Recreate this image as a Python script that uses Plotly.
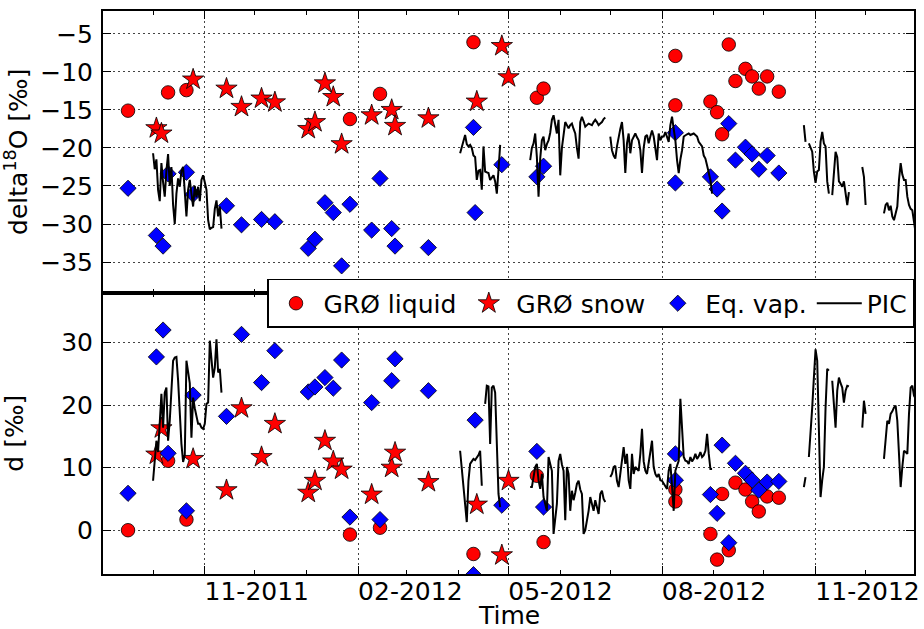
import pandas as pd
import plotly.graph_objects as go
from plotly.subplots import make_subplots

# ---- GRØ liquid precipitation samples ----
liquid_dates = ["2011-09-16", "2011-10-10", "2011-10-21", "2012-01-27", "2012-02-14",
                "2012-04-10", "2012-05-18", "2012-05-22", "2012-08-09", "2012-08-09",
                "2012-08-30", "2012-09-03", "2012-09-06", "2012-09-10", "2012-09-14",
                "2012-09-20", "2012-09-24", "2012-09-28", "2012-10-03", "2012-10-10"]
liquid_d18o = [-15.1, -12.7, -12.4, -16.2, -12.9, -6.1, -13.4, -12.2, -7.9, -14.4,
               -13.9, -15.3, -18.2, -6.4, -11.2, -9.6, -10.6, -12.2, -10.6, -12.6]
liquid_dxs = [0.0, 11.1, 1.7, -0.7, 0.4, -3.8, 8.7, -1.9, 6.5, 4.6,
              -0.6, -4.7, 5.8, -3.2, 7.6, 6.5, 4.6, 3.0, 5.4, 5.2]

# ---- GRØ snow samples ----
snow_dates = ["2011-10-03", "2011-10-06", "2011-10-25", "2011-11-14", "2011-11-23",
              "2011-12-05", "2011-12-13", "2012-01-02", "2012-01-06", "2012-01-12",
              "2012-01-17", "2012-01-22", "2012-02-09", "2012-02-21", "2012-02-23",
              "2012-03-14", "2012-04-12", "2012-04-27", "2012-05-01"]
snow_d18o = [-17.4, -18.1, -11.0, -12.2, -14.6, -13.5, -14.0, -17.5, -16.6, -11.5,
             -13.3, -19.5, -15.7, -15.0, -17.1, -16.1, -13.9, -6.6, -10.7]
snow_dxs = [12.1, 16.3, 11.4, 6.4, 19.5, 11.7, 17.0, 6.0, 7.9, 14.3,
            11.0, 9.7, 5.7, 10.0, 12.4, 7.7, 4.1, -4.0, 7.9]

# ---- vapour in equilibrium with the samples ----
vap_dates = ["2011-09-16", "2011-10-03", "2011-10-07", "2011-10-10", "2011-10-21",
             "2011-10-25", "2011-11-14", "2011-11-23", "2011-12-05", "2011-12-13",
             "2012-01-02", "2012-01-06", "2012-01-12", "2012-01-17", "2012-01-22",
             "2012-01-27", "2012-02-09", "2012-02-14", "2012-02-21", "2012-02-23",
             "2012-03-14", "2012-04-10", "2012-04-11", "2012-04-27", "2012-05-18",
             "2012-05-22", "2012-08-09", "2012-08-09", "2012-08-30", "2012-09-03",
             "2012-09-06", "2012-09-10", "2012-09-14", "2012-09-20", "2012-09-24",
             "2012-09-28", "2012-10-03", "2012-10-10"]
vap_d18o = [-25.3, -31.5, -32.9, -23.4, -23.2, -26.1, -27.6, -30.1, -29.4, -29.7,
            -33.2, -32.0, -27.2, -28.5, -35.5, -27.4, -30.8, -24.0, -30.6, -32.9,
            -33.1, -17.3, -28.5, -22.2, -23.8, -22.4, -18.0, -24.6, -23.8, -25.4,
            -28.3, -16.8, -21.6, -19.9, -20.8, -22.8, -21.0, -23.3]
vap_dxs = [5.9, 27.7, 32.0, 12.3, 3.1, 21.6, 18.2, 31.3, 23.6, 28.7,
           22.1, 22.9, 24.4, 22.7, 27.2, 2.1, 20.4, 1.7, 23.9, 27.4,
           22.3, -7.1, 17.6, 4.0, 12.6, 3.7, 12.2, 8.0, 5.7, 2.7,
           13.6, -2.0, 10.7, 9.1, 8.0, 6.4, 7.7, 7.8]

# ---- PIC daily record, one list per continuous measuring period ----
pic_starts = ["2011-10-01", "2012-04-02", "2012-05-14", "2012-07-01", "2012-10-25",
              "2012-10-28", "2012-11-11", "2012-11-29", "2012-12-12"]
pic_d18o = [
    [-20.7, -22.8, -21.5, -25.5, -27.0, -22.0, -24.5, -26.4, -23.0, -20.8,
     -25.0, -22.5, -27.5, -30.0, -26.0, -24.0, -25.1, -23.0, -22.5, -26.0,
     -29.0, -25.5, -24.2, -26.0, -27.7, -25.0, -26.5, -25.1, -27.0, -24.2,
     -23.6, -24.5, -25.5, -29.5, -30.7, -30.5, -30.4, -28.0, -26.9, -29.0,
     -27.7, -30.6],
    [-20.7, -19.8, -18.8, -18.3, -19.5, -19.8, -19.6, -20.0, -21.0, -21.2,
     -24.2, -23.0, -22.9, -25.5, -19.8, -23.1, -23.2, -23.3, -24.2, -23.8,
     -23.6, -24.4, -26.0, -22.9, -19.6],
    [-21.6, -20.0, -19.4, -18.1, -21.2, -26.4, -21.4, -19.0, -18.5, -20.3,
     -19.5, -19.0, -18.0, -16.3, -15.7, -17.0, -18.1, -16.3, -23.6, -20.0,
     -18.5, -16.6, -17.0, -17.4, -17.0, -16.8, -17.5, -18.1, -20.0, -21.4,
     -16.6, -15.9, -16.5, -17.2, -17.0, -16.8, -16.9, -17.0, -16.6, -16.3,
     -16.6, -17.0, -16.8, -16.6, -16.2, -16.0],
    [-18.5, -20.3, -21.0, -21.4, -19.8, -18.5, -17.5, -16.6, -19.0, -23.3,
     -19.4, -18.1, -20.7, -19.0, -18.5, -18.1, -18.6, -19.0, -20.3, -23.3,
     -20.0, -18.5, -18.3, -19.4, -18.5, -17.7, -18.5, -20.0, -21.6, -18.1,
     -19.0, -18.5, -18.5, -17.9, -18.5, -19.2, -17.0, -15.9, -17.5, -19.0,
     -21.6, -23.3, -21.5, -20.3, -18.5, -18.3, -18.2, -18.1, -18.3, -18.2,
     -18.1, -18.3, -18.5, -19.2, -19.5, -19.8, -21.0, -21.4, -22.3, -23.3,
     -24.2, -26.0],
    [-17.0, -19.2],
    [-19.4, -20.0, -20.5, -23.1, -24.6, -23.1, -22.9, -19.2, -17.9, -19.4,
     -19.8, -24.4, -26.0],
    [-26.2, -23.8, -20.5, -21.2, -24.4, -24.7, -25.1, -24.4, -25.8, -27.5,
     -25.8],
    [-22.5, -23.8, -27.5],
    [-28.6, -27.5, -27.2, -28.2, -27.6, -29.0, -29.5, -28.5, -27.7, -24.2,
     -22.0, -23.5, -24.2, -24.2, -26.4, -27.5, -28.0, -28.2, -29.5, -31.2],
]
pic_dxs = [
    [7.9, 11.6, 14.3, 12.5, 18.0, 21.8, 16.4, 22.0, 22.8, 14.3,
     17.5, 22.0, 27.1, 27.6, 27.7, 24.0, 18.6, 13.8, 10.9, 12.0,
     27.1, 25.0, 23.5, 14.8, 21.2, 19.5, 18.0, 17.0, 17.0, 16.4,
     16.2, 17.0, 20.2, 20.4, 30.3, 27.0, 24.4, 26.0, 30.5, 25.2,
     25.8, 22.0],
    [12.7, 10.0, 7.9, 4.0, 1.3, 7.9, 10.6, 11.0, 11.4, 11.2,
     11.6, 12.0, 12.7, 7.1, None, 20.2, 23.1, 23.0, 13.8, 22.8,
     23.1, 22.0, 14.8, 5.8, 3.7],
    [6.9, 6.9, 8.5, 10.1, 10.6, 8.0, 6.6, 9.0, 5.3, 4.0,
     3.1, 11.7, 10.5, 9.5, -0.6, 2.0, 4.2, 11.1, 12.2, 10.5,
     9.5, 1.6, 10.1, 9.0, 3.1, 6.3, 4.8, 6.0, 7.4, 7.9,
     6.5, 5.8, -0.6, 0.0, 1.5, 3.1, 5.3, 4.0, 3.1, 4.8,
     3.5, 2.6, 5.8, 6.3, 5.0, 4.5],
    [8.5, 9.0, 10.1, 10.3, 7.9, 6.9, 9.0, 11.1, 13.3, 10.6,
     12.2, 8.0, 6.6, 12.2, 9.0, 10.1, 9.8, 9.5, 12.2, 16.2,
     11.0, 9.5, 9.0, 11.1, 12.5, 14.3, 10.1, 9.0, 8.5, 9.0,
     8.0, 7.9, 7.4, 7.0, 6.6, 9.5, 10.6, 7.0, 3.1, 9.5,
     10.5, 11.1, 21.0, 17.0, 11.7, 11.1, 11.0, 10.6, 11.7, 11.0,
     11.4, 12.2, 11.4, 11.8, 12.5, 11.7, 12.0, 12.7, 15.4, 12.2,
     9.8, 9.8],
    [6.9, 8.5],
    [11.7, 15.0, 19.6, 24.4, 28.9, 27.1, 14.8, 5.3, 8.0, 10.1,
     19.6, 25.8, 25.5],
    [23.9, 20.0, 16.4, 22.3, 24.4, 23.5, 22.8, 20.4, 22.3, 23.1,
     23.0],
    [16.4, 20.7, 18.6],
    [11.4, 15.0, 17.5, 17.0, 18.6, 19.0, 19.6, 19.9, 17.5, 12.2,
     6.9, 10.1, 12.7, 12.5, 12.2, 18.6, 22.8, 23.1, 21.5, 21.0],
]


def join_segments(starts, segments):
    """Concatenate daily segments, leaving a gap between periods."""
    xs, ys = [], []
    for start, vals in zip(starts, segments):
        days = pd.date_range(start, periods=len(vals), freq="D")
        xs.extend(days.strftime("%Y-%m-%d").tolist())
        ys.extend(vals)
        xs.append(None)
        ys.append(None)
    return xs, ys


pic_x, pic_y18 = join_segments(pic_starts, pic_d18o)
_, pic_yd = join_segments(pic_starts, pic_dxs)

FONT = "DejaVu Sans, Liberation Sans, sans-serif"
FS = 25
TXT = dict(family=FONT, size=FS, color="black")

fig = make_subplots(rows=2, cols=1, shared_xaxes=True, vertical_spacing=0)

edge = dict(color="black", width=0.8)
for row, yl, ys, yv, yp in [(1, liquid_d18o, snow_d18o, vap_d18o, pic_y18),
                            (2, liquid_dxs, snow_dxs, vap_dxs, pic_yd)]:
    show = row == 1
    fig.add_trace(go.Scatter(x=liquid_dates, y=yl, mode="markers", name="GRØ liquid",
                             showlegend=show,
                             marker=dict(symbol="circle", size=13.5, color="#ff0000", line=edge)),
                  row=row, col=1)
    fig.add_trace(go.Scatter(x=snow_dates, y=ys, mode="markers", name="GRØ snow",
                             showlegend=show,
                             marker=dict(symbol="star", size=16, color="#ff0000", line=edge)),
                  row=row, col=1)
    fig.add_trace(go.Scatter(x=vap_dates, y=yv, mode="markers", name="Eq. vap.",
                             showlegend=show,
                             marker=dict(symbol="diamond", size=12.5, color="#0000ff", line=edge)),
                  row=row, col=1)
    fig.add_trace(go.Scatter(x=pic_x, y=yp, mode="lines", name="PIC", showlegend=show,
                             connectgaps=False, line=dict(color="black", width=2)),
                  row=row, col=1)

grid = dict(showgrid=True, gridcolor="#444444", griddash="2px,3px", gridwidth=1)
frame = dict(showline=True, linewidth=2, linecolor="black", mirror="ticks",
             ticks="inside", ticklen=8, tickwidth=1.2, tickcolor="black",
             tickfont=TXT, zeroline=False)

xcommon = dict(type="date", range=["2011-09-01", "2012-12-30"], dtick="M3",
               tick0="2011-11-01", tickformat="%m-%Y",
               minor=dict(dtick="M1", ticks="inside", ticklen=4, tickcolor="black",
                          tickwidth=1.2, showgrid=False),
               **grid, **frame)
fig.update_xaxes(**xcommon)
fig.update_xaxes(showticklabels=False, row=1, col=1)
fig.update_xaxes(showticklabels=True, ticklabelstandoff=-6, ticklabelshift=52,
                 row=2, col=1)

fig.update_yaxes(range=[-39, -2], dtick=5, tick0=0, ticklabelstandoff=3,
                 title=dict(text="delta<sup>18</sup>O [‰]", font=TXT, standoff=10),
                 **grid, **frame, row=1, col=1)
fig.update_yaxes(range=[-7, 38], dtick=10, tick0=0, ticklabelstandoff=3,
                 title=dict(text="d [‰]", font=TXT, standoff=31),
                 **grid, **frame, row=2, col=1)

fig.add_annotation(text="Time", xref="paper", yref="paper",
                   x=0.5, y=-0.073, yanchor="middle", showarrow=False, font=TXT)

fig.update_layout(
    width=924, height=629,
    margin=dict(l=103, r=5, t=11, b=55),
    paper_bgcolor="white", plot_bgcolor="white",
    font=TXT,
    legend=dict(orientation="h", x=1.0, xanchor="right", y=0.524, yanchor="top",
                bgcolor="white", bordercolor="black", borderwidth=1.5,
                itemwidth=45, font=TXT),
)

fig.write_html("out.html")
